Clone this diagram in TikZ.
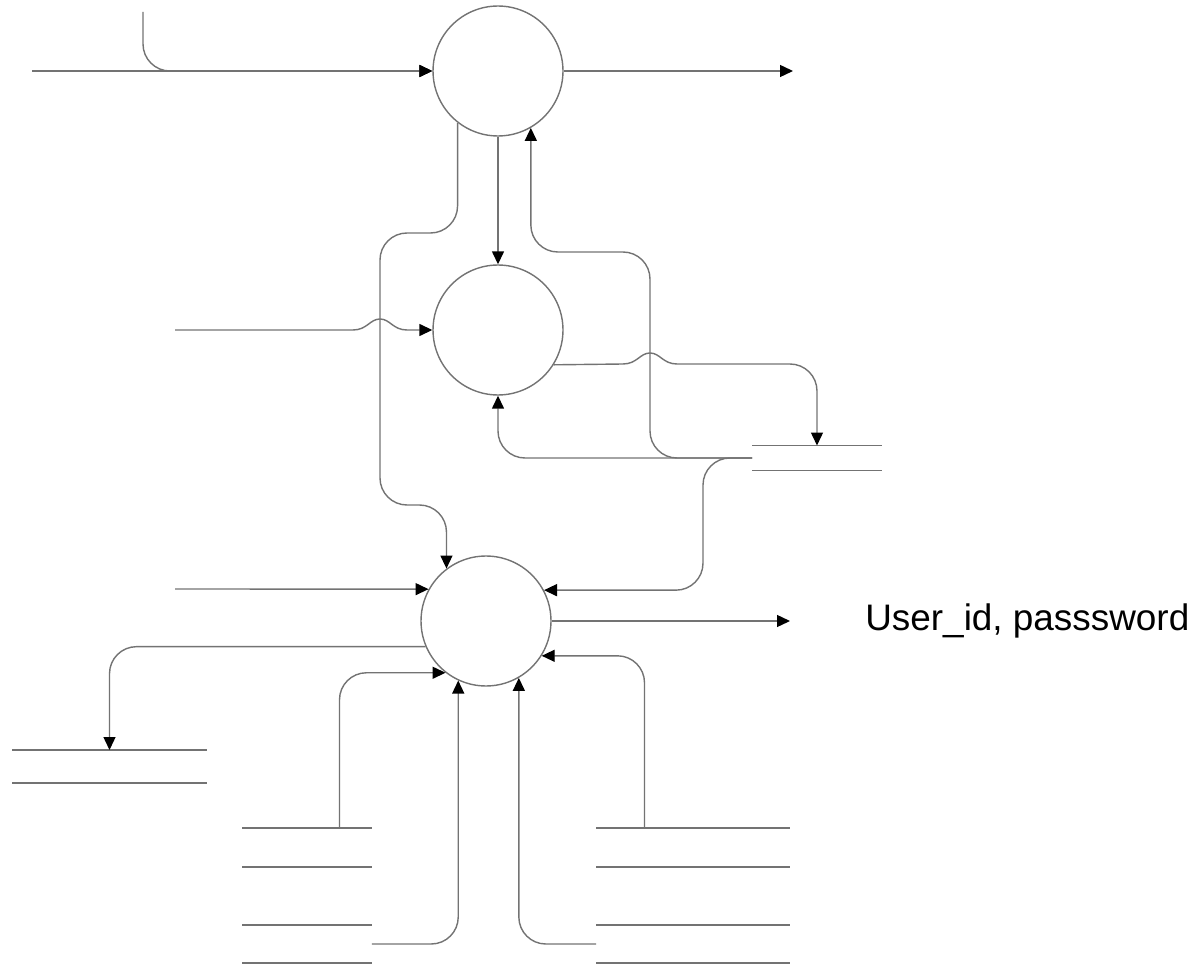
\documentclass[tikz,border=0pt]{standalone}
\usepackage{fontspec}
\setmainfont{Liberation Sans}
\usetikzlibrary{arrows.meta,calc}

\begin{document}
\begin{tikzpicture}[
    x=0.02cm, y=-0.02cm,
    every node/.style={font=\fontsize{21}{25}\selectfont},
    proc/.style={circle, draw=black!55, line width=0.8pt, minimum size=2.6cm, inner sep=0pt},
    store/.style n args={2}{rectangle, inner sep=0pt, outer sep=0pt, minimum width=#1, minimum height=#2},
    storeline/.style={draw=black!55, line width=0.8pt},
    flow/.style={draw=black!55, line width=0.8pt, -{Triangle[length=2.6mm, width=2.4mm, black]}, rounded corners=0.54cm}
]
\useasboundingbox (0,0) rectangle (1201,966);

% processes
\node[proc] (p1) at (498, 71) {};
\node[proc] (p2) at (498, 330) {};
\node[proc] (p3) at (486, 621) {};

% data stores
\node[store={2.6cm}{0.5cm}]   (d1) at (817, 458) {};
\node[store={3.9cm}{0.66cm}]  (d2) at (109.5, 766.5) {};
\node[store={2.6cm}{0.78cm}]  (d3) at (307, 847.5) {};
\node[store={2.6cm}{0.76cm}]  (d4) at (307, 944) {};
\node[store={3.88cm}{0.78cm}] (d5) at (693, 847.5) {};
\node[store={3.88cm}{0.76cm}] (d6) at (693, 944) {};
\foreach \s in {d1,d2,d3,d4,d5,d6}
    \draw[storeline] (\s.north west) -- (\s.north east) (\s.south west) -- (\s.south east);

% free ends
\coordinate (in1) at (32, 71);
\coordinate (top1) at (143, 12);
\coordinate (out1) at (793, 71);
\coordinate (in2) at (175, 330);
\coordinate (in3) at (175, 589);
\coordinate (out3) at (790, 621);

\node[anchor=west, inner sep=0pt] (lbl) at (865, 621) {User\_id, passsword};

% top process
\draw[flow] (in1) -- (p1.west);
\draw[flow] (top1) |- (p1.west);
\draw[flow] (p1.east) -- (out1);
\draw[flow] (p1.south) -- (p2.north);
\draw[flow] (p1.232) |- (380, 233) |- (p3.127 |- 0,505) -- (p3.127);
\draw[flow] (d1.west) -- (650, 458) |- (p1.300 |- 0,252) -- (p1.300);

% middle process
\draw[flow, sharp corners] (in2) -- (353, 330) .. controls (367, 330) and (370, 319) .. (380, 319)
    .. controls (390, 319) and (393, 330) .. (407, 330) -- (p2.west);
\draw[flow, sharp corners] (p2.328) -- (623, 364) .. controls (637, 364) and (640, 353) .. (650, 353)
    .. controls (660, 353) and (663, 364) .. (677, 364) [rounded corners=0.54cm] -| (d1.north);
\draw[flow] (d1.west) -| (p2.south);

% bottom process
\draw[flow] (d1.west) -- (703, 458) |- (p3.28);
\draw[flow] (in3) -- (p3.151);
\draw[flow] (p3.east) -- (out3);
\draw[flow] (p3.203) -| (d2.north);
\draw[flow] ($(d3.north west)!0.75!(d3.north east)$) |- (p3.232);
\draw[flow] (d4.east) -| (p3.245);
\draw[flow] (d6.west) -| (p3.300);
\draw[flow] ($(d5.north west)!0.25!(d5.north east)$) |- (p3.328);
\end{tikzpicture}
\end{document}
